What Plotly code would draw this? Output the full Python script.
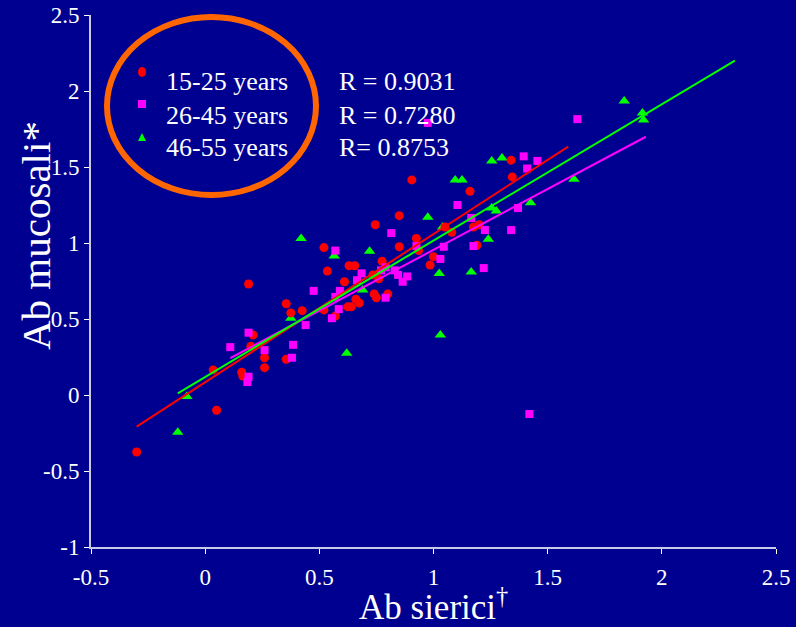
import plotly.graph_objects as go

# ---------------- data ----------------
groups = ["15-25 years", "26-45 years", "46-55 years"]
r_labels = ["R = 0.9031", "R = 0.7280", "R= 0.8753"]
colors = ["#FF0000", "#FF00FF", "#00FF00"]

red_x = [-0.30, 0.05, 0.035, 0.19, 0.20, 0.16, 0.165, 0.21, 0.745, 0.52, 0.535, 0.63,
         0.655, 0.85, 0.775, 0.61, 0.735, 0.76, 0.74, 0.75, 0.80, 0.66, 0.675, 0.625,
         0.64, 0.52, 0.57, 0.355, 0.375, 0.425, 0.26, 0.26, 0.355, 0.905, 1.16, 1.34,
         1.345, 0.85, 0.925, 0.935, 1.0, 0.985, 1.05, 1.08, 1.175, 1.20, 1.19]
red_y = [-0.375, -0.10, 0.165, 0.73, 0.32, 0.15, 0.125, 0.395, 1.12, 0.97, 0.815, 0.85,
         0.85, 0.975, 0.88, 0.745, 0.79, 0.765, 0.665, 0.64, 0.665, 0.63, 0.605, 0.58,
         0.58, 0.56, 0.52, 0.60, 0.54, 0.555, 0.245, 0.18, 0.235, 1.415, 1.34, 1.545,
         1.435, 1.18, 1.03, 0.95, 0.91, 0.855, 1.105, 1.07, 1.105, 1.12, 0.985]

mag_x = [0.11, 0.19, 0.19, 0.185, 0.815, 0.57, 0.685, 0.665, 0.79, 0.77, 0.83, 0.845,
         0.475, 0.59, 0.57, 0.585, 0.555, 0.44, 0.79, 0.26, 0.385, 0.38, 0.975, 1.395,
         1.455, 1.41, 1.105, 1.165, 1.37, 1.225, 1.34, 0.925, 1.045, 1.175, 1.03, 1.22,
         0.885, 0.865, 1.63, 1.42]
mag_y = [0.315, 0.41, 0.12, 0.085, 1.065, 0.95, 0.80, 0.755, 0.84, 0.82, 0.82, 0.79,
         0.685, 0.685, 0.645, 0.565, 0.505, 0.46, 0.64, 0.295, 0.33, 0.245, 1.79, 1.57,
         1.54, 1.49, 1.25, 1.165, 1.23, 1.085, 1.085, 0.98, 0.975, 0.98, 0.895, 0.835,
         0.78, 0.745, 1.815, -0.125]

grn_x = [-0.08, -0.12, 0.42, 0.565, 0.72, 0.62, 0.375, 0.69, 1.255, 1.30, 1.095, 1.125,
         0.975, 1.255, 1.275, 1.425, 1.04, 1.24, 1.025, 1.165, 1.03, 1.835, 1.915, 1.92,
         1.615]
grn_y = [-0.01, -0.245, 1.03, 0.915, 0.945, 0.275, 0.505, 0.69, 1.54, 1.56, 1.415, 1.415,
         1.17, 1.23, 1.21, 1.265, 1.105, 1.025, 0.80, 0.81, 0.395, 1.935, 1.855, 1.81,
         1.42]

# regression lines (red, magenta, green)
fit_slope = [0.975, 0.80, 0.897]
fit_intercept = [0.084, 0.155, 0.119]
fit_x_start = [-0.30, 0.11, -0.12]
fit_x_end = [1.59, 1.93, 2.32]

tick_vals_x = [-0.5, 0, 0.5, 1, 1.5, 2, 2.5]
tick_text_x = ["-0.5", "0", "0.5", "1", "1.5", "2", "2.5"]
tick_vals_y = [-1, -0.5, 0, 0.5, 1, 1.5, 2, 2.5]
tick_text_y = ["-1", "-0.5", "0", "0.5", "1", "1.5", "2", "2.5"]

BG = "#000090"
SERIF = "Liberation Serif, Times New Roman, serif"

fig = go.Figure()

fig.add_trace(go.Scatter(x=grn_x, y=grn_y, mode="markers", name=groups[2],
                         marker=dict(symbol="triangle-up", size=10, color=colors[2])))
fig.add_trace(go.Scatter(x=red_x, y=red_y, mode="markers", name=groups[0],
                         marker=dict(symbol="circle", size=9, color=colors[0])))
fig.add_trace(go.Scatter(x=mag_x, y=mag_y, mode="markers", name=groups[1],
                         marker=dict(symbol="square", size=8, color=colors[1])))

for i in range(3):
    xs = [fit_x_start[i], fit_x_end[i]]
    ys = [fit_intercept[i] + fit_slope[i] * v for v in xs]
    fig.add_trace(go.Scatter(x=xs, y=ys, mode="lines",
                             line=dict(color=colors[i], width=2), showlegend=False))

# plot-area geometry in pixels (for placing text decorations)
L, R_, T, B = 91, 20, 15, 80
W, H = 796, 627
pw, ph = W - L - R_, H - T - B


def px(xp):
    return (xp - L) / pw


def py(yp):
    return (H - B - yp) / ph


annotations = []
leg_y = [82, 115, 147]
for i in range(3):
    annotations.append(dict(x=px(164), y=py(leg_y[i]), xref="paper", yref="paper",
                            text=groups[i], showarrow=False, xanchor="left", yanchor="middle",
                            font=dict(family=SERIF, size=26, color="white")))
    annotations.append(dict(x=px(337), y=py(leg_y[i]), xref="paper", yref="paper",
                            text=r_labels[i], showarrow=False, xanchor="left", yanchor="middle",
                            font=dict(family=SERIF, size=26, color="white")))

annotations.append(dict(x=0.5, y=py(604), xref="paper", yref="paper",
                        text="Ab sierici<sup>†</sup>", showarrow=False,
                        xanchor="center", yanchor="middle",
                        font=dict(family=SERIF, size=35, color="white")))
annotations.append(dict(x=px(36), y=py(236), xref="paper", yref="paper",
                        text="Ab mucosali*", showarrow=False, textangle=-90,
                        xanchor="center", yanchor="middle",
                        font=dict(family=SERIF, size=41, color="white")))

shapes = []
shapes.append(dict(type="circle", xref="paper", yref="paper",
                   x0=px(107), x1=px(316), y0=py(195), y1=py(17),
                   line=dict(color="#FF6600", width=6), layer="above"))
mk_y = [72, 104, 137]
mx = 142
shapes.append(dict(type="circle", xref="paper", yref="paper", xsizemode="pixel", ysizemode="pixel",
                   xanchor=px(mx), yanchor=py(mk_y[0]), x0=-4, x1=4, y0=-5, y1=5,
                   fillcolor=colors[0], line=dict(width=0)))
shapes.append(dict(type="rect", xref="paper", yref="paper", xsizemode="pixel", ysizemode="pixel",
                   xanchor=px(mx), yanchor=py(mk_y[1]), x0=-4, x1=4, y0=-4, y1=4,
                   fillcolor=colors[1], line=dict(width=0)))
shapes.append(dict(type="path", xref="paper", yref="paper", xsizemode="pixel", ysizemode="pixel",
                   xanchor=px(mx), yanchor=py(mk_y[2]), path="M -4,-4 L 4,-4 L 0,4 Z",
                   fillcolor=colors[2], line=dict(width=0)))

fig.update_layout(
    width=W, height=H,
    margin=dict(l=L, r=R_, t=T, b=B, autoexpand=False),
    paper_bgcolor=BG, plot_bgcolor=BG,
    showlegend=False,
    annotations=annotations,
    shapes=shapes,
    xaxis=dict(range=[-0.5, 2.5], tickvals=tick_vals_x, ticktext=tick_text_x,
               showgrid=False, zeroline=False, showline=True, linecolor="#C8C8E8", linewidth=2,
               ticks="outside", ticklen=5, tickcolor="white", tickwidth=1,
               ticklabelstandoff=3, automargin=False,
               tickfont=dict(family=SERIF, size=23, color="white")),
    yaxis=dict(range=[-1, 2.5], tickvals=tick_vals_y, ticktext=tick_text_y,
               showgrid=False, zeroline=False, showline=True, linecolor="#C8C8E8", linewidth=2,
               ticks="outside", ticklen=5, tickcolor="white", tickwidth=1, automargin=False,
               tickfont=dict(family=SERIF, size=23, color="white")),
)

fig.write_html("out.html", config={"displayModeBar": False},
               post_script="document.body.style.margin='0px';document.body.style.background='" + BG + "';")
